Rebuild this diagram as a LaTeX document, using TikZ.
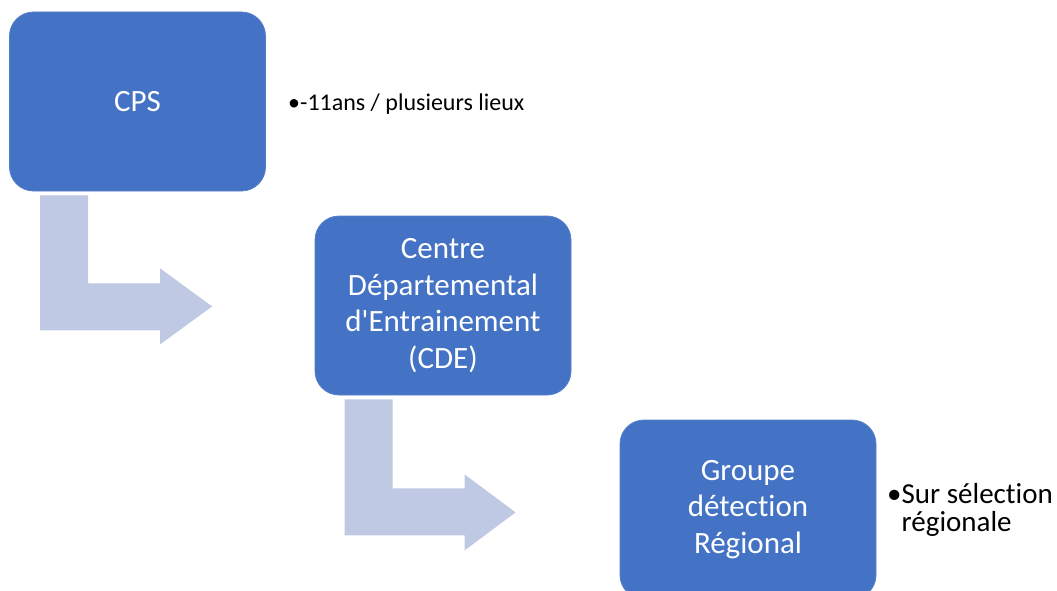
\documentclass[tikz,border=0pt]{standalone}
\usepackage{fontspec}
\setmainfont{Carlito}[Ligatures={TeXOff,NoCommon}]
\usetikzlibrary{calc}
\definecolor{boxblue}{RGB}{68,114,196}
\definecolor{arrowpale}{RGB}{192,201,228}
\tikzset{
  stagebox/.style={fill=boxblue, draw=boxblue!90!white, line width=0.8pt, rounded corners=24pt,
    minimum width=256pt, minimum height=179pt, text=white, align=center,
    font=\fontsize{31}{36.5}\selectfont, inner sep=0pt},
  bentarrow/.style={fill=arrowpale, draw=none},
  note/.style={align=left, inner sep=0pt, text=black}
}
\begin{document}
\begin{tikzpicture}[x=1pt,y=-1pt]
\useasboundingbox (0,0) rectangle (1057,591);
\clip (0,0) rectangle (1057,591);
\node[stagebox] (cps) at (137.5,101.5) {CPS};
\node[stagebox] (cde) at (443,305.5) {Centre\\Départemental\\d'Entrainement\\(CDE)};
\node[stagebox] (grp) at (748,509.5) {Groupe\\détection\\Régional};
\node[note, anchor=base west, font=\fontsize{24}{28}\selectfont] (n1) at (288,111) {•-11ans / plusieurs lieux};
\node[note, anchor=west, font=\fontsize{29}{28}\selectfont] (n2) at (887,510) {•Sur sélection\\\hphantom{•}régionale};
\path (cps.south west) ++(31,4) coordinate (a1);
\path (cde.south west) ++(30,4) coordinate (a2);
\fill[bentarrow] (a1) -- ++(48,0) -- ++(0,88) -- ++(72,0) -- ++(0,-15) -- ++(52,38) -- ++(-52,38) -- ++(0,-14) -- ++(-120,0) -- cycle;
\fill[bentarrow] (a2) -- ++(48,0) -- ++(0,89) -- ++(72,0) -- ++(0,-14) -- ++(51,38) -- ++(-51,38) -- ++(0,-15) -- ++(-120,0) -- cycle;
\end{tikzpicture}
\end{document}
